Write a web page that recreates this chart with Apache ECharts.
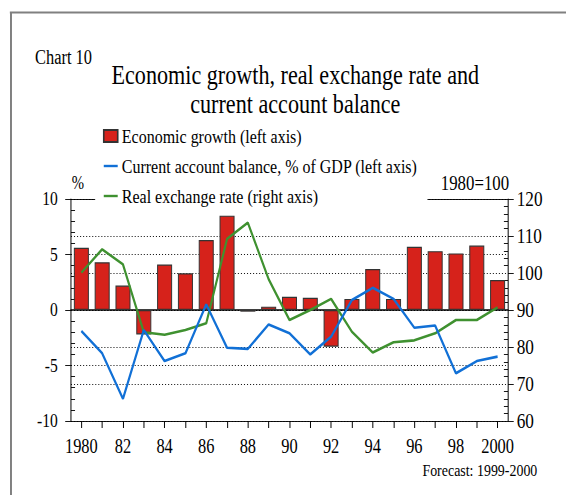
<!DOCTYPE html>
<html>
<head>
<meta charset="utf-8">
<script src="https://cdn.jsdelivr.net/npm/echarts@6/dist/echarts.min.js"></script>
<style>
  html, body { margin: 0; padding: 0; background: #fff; overflow: hidden; }
  #wrap { width: 566px; height: 495px; overflow: hidden; position: relative; }
  /* the chart is laid out wider and condensed horizontally, giving tall narrow type */
  #chart { width: 690px; height: 495px; transform: scaleX(0.82029); transform-origin: 0 0; }
</style>
</head>
<body>
<div id="wrap"><div id="chart"></div></div>
<script>
// Years on the category axis (labels shown every other year)
const years = ['1980', '81', '82', '83', '84', '85', '86', '87', '88', '89', '90',
               '91', '92', '93', '94', '95', '96', '97', '98', '99', '2000'];

// Economic growth, % (left axis)
const growth = [5.6, 4.3, 2.2, -2.2, 4.1, 3.3, 6.3, 8.5, -0.15, 0.3, 1.2,
                1.1, -3.3, 1.0, 3.7, 1.0, 5.7, 5.3, 5.1, 5.8, 2.7];

// Current account balance, % of GDP (left axis)
const currentAccount = [-1.9, -3.9, -8.0, -1.8, -4.6, -3.9, 0.5, -3.4, -3.5, -1.3, -2.1,
                        -4.0, -2.4, 0.9, 2.0, 1.0, -1.6, -1.4, -5.7, -4.6, -4.2];

// Real exchange rate, 1980=100 (right axis)
const exchangeRate = [100.1, 106.4, 102.3, 84.0, 83.3, 84.6, 86.4, 109.2, 113.6, 98.3, 87.3,
                      90.0, 93.0, 84.1, 78.5, 81.3, 81.8, 83.7, 87.3, 87.3, 90.7];

// Axis scales
const leftAxisRange = [-10, 10];
const leftAxisStep = 5;
const rightAxisRange = [60, 120];
const rightAxisStep = 10;

const seriesNames = [
  'Economic growth (left axis)',
  'Current account balance, % of GDP (left axis)',
  'Real exchange rate (right axis)'
];

const serif = 'Liberation Serif';
const ink = '#000';
const barRed = '#d6221b';
const caBlue = '#1170d6';
const rerGreen = '#3f9130';

// thin horizontal bar used as the legend key for the two lines
const lineKey = 'path://M0,0H17V2.4H0Z';

const chart = echarts.init(document.getElementById('chart'), null, { renderer: 'svg' });

chart.setOption({
  backgroundColor: '#fff',
  animation: false,
  textStyle: { fontFamily: serif, color: ink },
  grid: { left: 86.5, right: 70.7, top: 199, bottom: 74, containLabel: false },
  legend: {
    orient: 'vertical',
    left: 116,
    top: 121,
    padding: [5, 12, 4, 9.5],
    itemGap: 10,
    itemWidth: 17,
    itemHeight: 12,
    backgroundColor: '#fff',
    textStyle: { fontFamily: serif, fontSize: 19.5, color: ink, lineHeight: 20 },
    data: [
      { name: seriesNames[0], icon: 'rect' },
      { name: seriesNames[1], icon: lineKey, itemStyle: { color: caBlue } },
      { name: seriesNames[2], icon: lineKey, itemStyle: { color: rerGreen } }
    ]
  },
  xAxis: [
    {
      // bottom axis with year labels
      type: 'category',
      data: years,
      position: 'bottom',
      boundaryGap: true,
      axisLine: { onZero: false, lineStyle: { color: ink, width: 1 } },
      axisTick: { show: true, interval: 0, alignWithLabel: true, length: 7, lineStyle: { color: ink, width: 1.2 } },
      axisLabel: { interval: 1, margin: 15, fontFamily: serif, fontSize: 20, color: ink },
      splitLine: { show: false }
    },
    {
      // zero line
      type: 'category',
      data: years,
      position: 'bottom',
      axisLine: { onZero: true, lineStyle: { color: ink, width: 1.5 } },
      axisTick: { show: false },
      axisLabel: { show: false },
      splitLine: { show: false }
    },
    {
      // top edge of the plot
      type: 'category',
      data: years,
      position: 'top',
      axisLine: { onZero: false, lineStyle: { color: ink, width: 1 } },
      axisTick: { show: false },
      axisLabel: { show: false },
      splitLine: { show: false }
    }
  ],
  yAxis: [
    {
      type: 'value',
      position: 'left',
      min: leftAxisRange[0],
      max: leftAxisRange[1],
      interval: leftAxisStep,
      axisLine: { show: true, lineStyle: { color: ink, width: 1.2 } },
      axisTick: { show: true, length: 7, lineStyle: { color: ink } },
      minorTick: { show: true, splitNumber: 5, length: -5, lineStyle: { color: ink } },
      axisLabel: { margin: 16, fontFamily: serif, fontSize: 19, color: ink },
      splitLine: { show: true, lineStyle: { color: ink, width: 1, type: [1.3, 2.4] } }
    },
    {
      type: 'value',
      position: 'right',
      min: rightAxisRange[0],
      max: rightAxisRange[1],
      interval: rightAxisStep,
      axisLine: { show: true, lineStyle: { color: ink, width: 1.2 } },
      axisTick: { show: true, length: 7, lineStyle: { color: ink } },
      minorTick: { show: true, splitNumber: 5, length: -5, lineStyle: { color: ink } },
      axisLabel: { margin: 10.6, fontFamily: serif, fontSize: 21, color: ink },
      splitLine: { show: true, lineStyle: { color: ink, width: 1, type: [1.3, 2.4] } }
    }
  ],
  series: [
    {
      name: seriesNames[0],
      type: 'bar',
      xAxisIndex: 0,
      yAxisIndex: 0,
      data: growth,
      barWidth: 18.3,
      itemStyle: { color: barRed, borderColor: '#333', borderWidth: 1.2 },
      z: 2
    },
    {
      name: seriesNames[1],
      type: 'line',
      xAxisIndex: 0,
      yAxisIndex: 0,
      data: currentAccount,
      symbol: 'none',
      lineStyle: { color: caBlue, width: 2.6 },
      itemStyle: { color: caBlue },
      z: 4
    },
    {
      name: seriesNames[2],
      type: 'line',
      xAxisIndex: 0,
      yAxisIndex: 1,
      data: exchangeRate,
      symbol: 'none',
      lineStyle: { color: rerGreen, width: 2.6 },
      itemStyle: { color: rerGreen },
      z: 3
    }
  ],
  graphic: [
    // outer frame (top and left edges)
    { type: 'line', shape: { x1: 12, y1: 12.5, x2: 690, y2: 12.5 }, style: { stroke: '#808080', lineWidth: 2 } },
    { type: 'line', shape: { x1: 13.4, y1: 12, x2: 13.4, y2: 495 }, style: { stroke: '#808080', lineWidth: 2.4 } },
    { type: 'text', x: 42.7, y: 57, style: { text: 'Chart 10', font: '20px "Liberation Serif"', fill: ink, textAlign: 'left', textVerticalAlign: 'middle' } },
    { type: 'text', x: 360, y: 75, style: { text: 'Economic growth, real exchange rate and', font: '27px "Liberation Serif"', fill: ink, textAlign: 'center', textVerticalAlign: 'middle' } },
    { type: 'text', x: 360, y: 104, style: { text: 'current account balance', font: '27px "Liberation Serif"', fill: ink, textAlign: 'center', textVerticalAlign: 'middle' } },
    { type: 'text', x: 95, y: 183, style: { text: '%', font: '18px "Liberation Serif"', fill: ink, textAlign: 'center', textVerticalAlign: 'middle' } },
    { type: 'text', x: 579, y: 183, style: { text: '1980=100', font: '20.5px "Liberation Serif"', fill: ink, textAlign: 'center', textVerticalAlign: 'middle' } },
    { type: 'text', x: 585, y: 470, style: { text: 'Forecast: 1999-2000', font: '17px "Liberation Serif"', fill: ink, textAlign: 'center', textVerticalAlign: 'middle' } }
  ]
});
</script>
</body>
</html>
